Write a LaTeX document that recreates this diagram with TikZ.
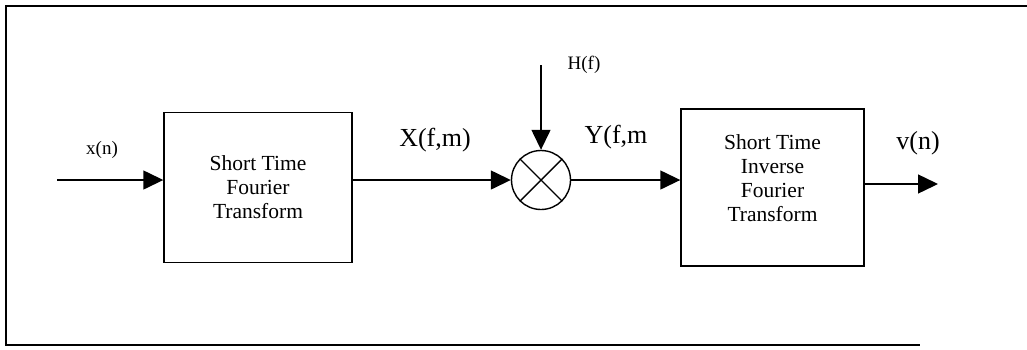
\documentclass[tikz,border=0pt]{standalone}
\usepackage{fontspec}
\setmainfont{Liberation Serif}
\usetikzlibrary{arrows.meta, positioning}

\begin{document}
\begin{tikzpicture}[x=1pt, y=-1pt, line width=1.4pt,
          blk/.style={draw, minimum width=188pt, minimum height=150pt, align=center,
                      font=\fontsize{21.5}{24}\selectfont},
          mix/.style={draw, circle, minimum size=59pt, inner sep=0pt},
          sig/.style={font=\fontsize{26}{28}\selectfont, inner sep=0pt},
          lbl/.style={font=\fontsize{19}{21}\selectfont, inner sep=0pt},
          >={Triangle[length=20pt, width=19pt]}]
        \useasboundingbox (0,0) rectangle (1027,349);
        % frame
        \draw[line width=1.6pt] (1027,6) -- (6,6) -- (6,345) -- (920,345);
        \node[blk] (stft) at (258,187.5) {Short Time\\ Fourier\\ Transform};
        \node[blk, minimum width=183pt, minimum height=157pt, text depth=19pt]
          (istft) at (772.5,187.5) {Short Time\\ Inverse\\ Fourier\\ Transform};
        \node[mix] (mult) at (541,180) {};
        \draw (mult.45) -- (mult.225);
        \draw (mult.135) -- (mult.315);
        \coordinate (in) at (57,180);
        \coordinate (out) at (938,184);
        \coordinate (hin) at (541,65);
        \node[lbl] (xn) at (102,150) {x(n)};
        \node[sig] (xfm) at (435,140) {X(f,m)};
        \node[sig] (yfm) at (616,137) {Y(f,m};
        \node[sig] (vn) at (918,143) {v(n)};
        \node[lbl] (hf) at (584,65) {H(f)};
        \draw[->] (in) -- (in -| stft.west);
        \draw[->] (stft.east |- mult) -- (mult);
        \draw[->] (hin) -- (mult);
        \draw[->] (mult) -- (mult -| istft.west);
        \draw[->] (istft.east |- out) -- (out);
      \end{tikzpicture}
\end{document}
